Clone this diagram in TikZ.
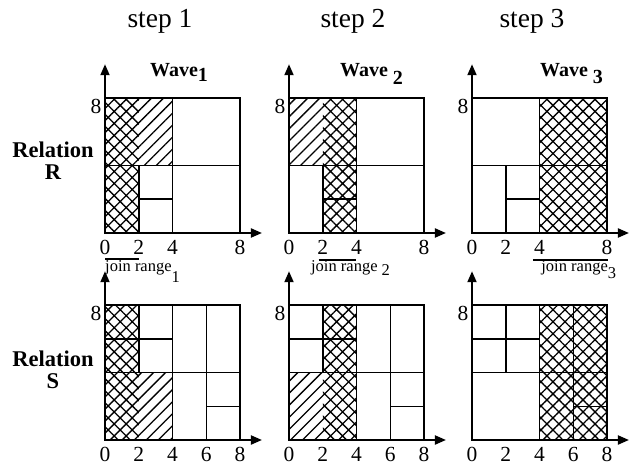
\documentclass[tikz,border=0pt]{standalone}
\usepackage{fontspec}
\setmainfont{Liberation Serif}
\usetikzlibrary{arrows.meta, patterns.meta}

\newcommand{\sub}[2][5pt]{\raisebox{-#1}{#2}}

% bucket lines of relation R
\newcommand{\bucketsR}{%
  \draw[cell] (4,0) -- (4,8);
  \draw[cell] (0,4) -- (8,4);
  \draw[cell] (2,0) -- (2,4);
  \draw[cell] (2,2) -- (4,2);
  \draw[bucketbox] (0,0) rectangle (8,8);
}
% bucket lines of relation S
\newcommand{\bucketsS}{%
  \draw[cell] (4,0) -- (4,8);
  \draw[cell] (6,0) -- (6,8);
  \draw[cell] (0,4) -- (8,4);
  \draw[cell] (2,4) -- (2,8);
  \draw[cell] (0,6) -- (4,6);
  \draw[cell] (6,2) -- (8,2);
  \draw[bucketbox] (0,0) rectangle (8,8);
}
% axes with tick labels
\newcommand{\axes}[2]{%
  \coordinate (#1o) at (0,0);
  \coordinate (#1x) at (9.3,0);
  \coordinate (#1y) at (0,10);
  \draw[axis] (#1o) -- (#1x);
  \draw[axis] (#1o) -- (#1y);
  \foreach \t in {#2} {\node[ticklabel] (#1t\t) at (\t,-1.25) {\t};}
  \node[ticklabel, anchor=east] (#1top) at (-0.2,7.5) {8};
}

\begin{document}
\begin{tikzpicture}[
  x=1pt, y=1pt,
  panel/.style={x=16.875pt, y=16.875pt},
  cell/.style={line width=1.5pt},
  bucketbox/.style={line width=2pt},
  axis/.style={-{Triangle[length=11pt, width=9pt]}, line width=2pt},
  xhatch/.style={pattern={Hatch[angle=45, distance=8.5pt, line width=1.3pt]}},
  dhatch/.style={pattern={Lines[angle=45, distance=8.5pt, line width=1.3pt]}},
  steplabel/.style={font=\fontsize{27.5}{32}\selectfont, anchor=base, inner sep=0pt},
  wavelabel/.style={font=\fontsize{20}{24}\selectfont\bfseries, anchor=base west, inner sep=0pt},
  rellabel/.style={font=\fontsize{22.5}{22}\selectfont\bfseries, align=center, inner sep=0pt},
  ticklabel/.style={font=\fontsize{21.5}{24}\selectfont, anchor=base, inner sep=0pt},
  rangelabel/.style={font=\fontsize{16.5}{20}\selectfont, anchor=base west, inner sep=0pt},
  rangebar/.style={line width=1.4pt}
]
\useasboundingbox (0,0) rectangle (634,466);

% ==================== TITLES ====================
\node[steplabel] (step1) at (160,438) {step 1};
\node[steplabel] (step2) at (353,438) {step 2};
\node[steplabel] (step3) at (532,438) {step 3};

\node[wavelabel] (wave1) at (150,389) {Wave\sub{1}};
\node[wavelabel] (wave2) at (340,389) {Wave \sub[8pt]{2}};
\node[wavelabel] (wave3) at (540,389) {Wave \sub[7pt]{3}};

\node[rellabel] (relR) at (53,305) {Relation\\R};
\node[rellabel] (relS) at (53,96) {Relation\\S};

% ==================== RELATION R ====================
\begin{scope}[shift={(105pt,233pt)}, panel]
  \path[xhatch] (0,0) rectangle (2,8);
  \path[dhatch] (2,4) rectangle (4,8);
  \bucketsR
  \axes{ra}{0,2,4,8}
  \draw[rangebar] (0,-1.55) -- (2,-1.55);
  \node[rangelabel] (jr1) at (0,-2.3) {join range\sub[11pt]{1}};
\end{scope}

\begin{scope}[shift={(289pt,233pt)}, panel]
  \path[dhatch] (0,4) rectangle (2,8);
  \path[xhatch] (2,0) rectangle (4,8);
  \bucketsR
  \axes{rb}{0,2,4,8}
  \draw[rangebar] (1.75,-1.6) -- (3.95,-1.6);
  \node[rangelabel] (jr2) at (1.3,-2.3) {join range \sub[4pt]{2}};
\end{scope}

\begin{scope}[shift={(472pt,233pt)}, panel]
  \path[xhatch] (4,0) rectangle (8,8);
  \bucketsR
  \axes{rc}{0,2,4,8}
  \draw[rangebar] (3.6,-1.6) -- (8.05,-1.6);
  \node[rangelabel] (jr3) at (4.1,-2.3) {join range\sub[7pt]{3}};
\end{scope}

% ==================== RELATION S ====================
\begin{scope}[shift={(105pt,26pt)}, panel]
  \path[xhatch] (0,0) rectangle (2,8);
  \path[dhatch] (2,0) rectangle (4,4);
  \bucketsS
  \axes{sa}{0,2,4,6,8}
\end{scope}

\begin{scope}[shift={(289pt,26pt)}, panel]
  \path[dhatch] (0,0) rectangle (2,4);
  \path[xhatch] (2,0) rectangle (4,8);
  \bucketsS
  \axes{sb}{0,2,4,6,8}
\end{scope}

\begin{scope}[shift={(472pt,26pt)}, panel]
  \path[xhatch] (4,0) rectangle (8,8);
  \bucketsS
  \axes{sc}{0,2,4,6,8}
\end{scope}

\end{tikzpicture}
\end{document}
